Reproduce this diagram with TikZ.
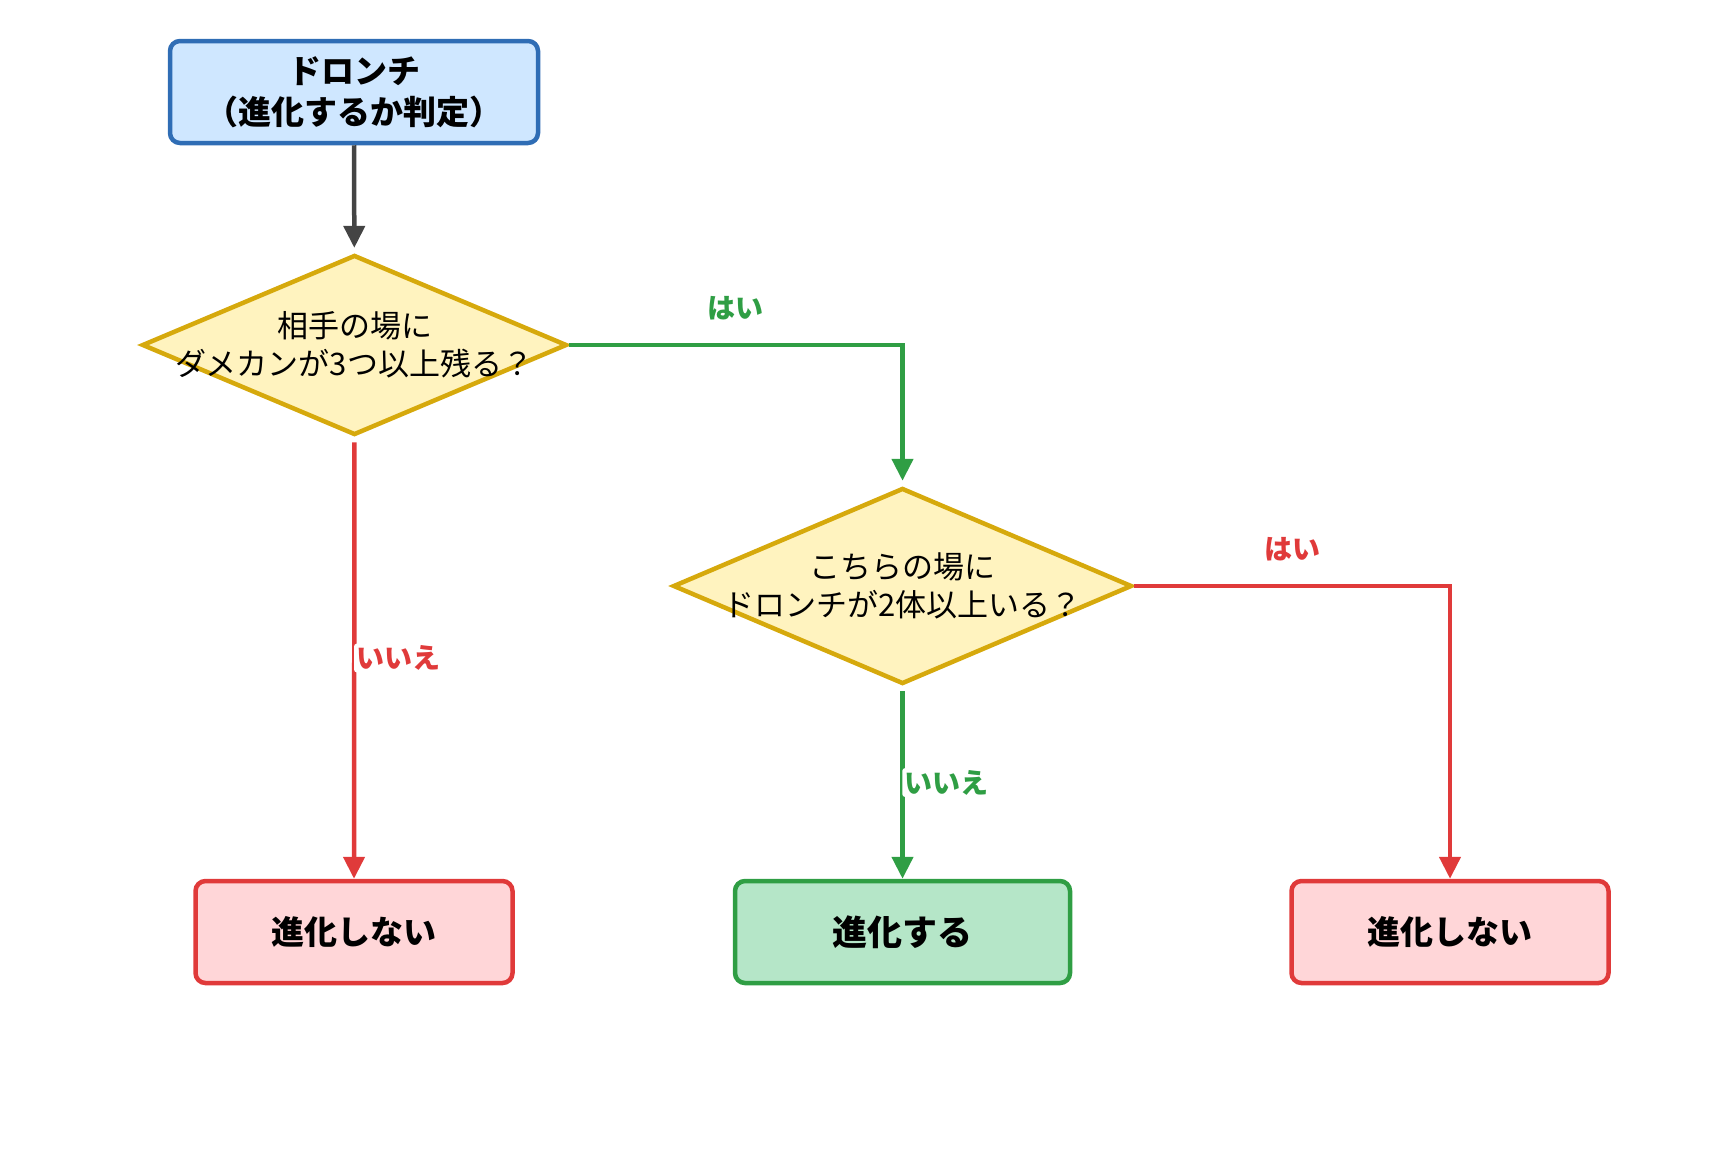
\documentclass[tikz,border=0pt]{standalone}
\usepackage{fontspec}
\setmainfont{Noto Sans CJK JP}
\usepackage{xcolor}
\usetikzlibrary{shapes.geometric,arrows.meta}

\definecolor{startline}{HTML}{2F6DB5}
\definecolor{startfill}{HTML}{CFE7FF}
\definecolor{askline}{HTML}{D6A90C}
\definecolor{askfill}{HTML}{FFF3BF}
\definecolor{noline}{HTML}{E03A3A}
\definecolor{nofill}{HTML}{FFD6D8}
\definecolor{goline}{HTML}{2F9E44}
\definecolor{gofill}{HTML}{B5E6C8}
\definecolor{arrowgray}{HTML}{444444}

\tikzset{
  startbox/.style={draw=startline,fill=startfill,line width=4.5pt,rounded corners=10pt,
    minimum width=368pt,minimum height=102pt,inner sep=0pt,align=center,
    font=\fontsize{33}{41}\selectfont\bfseries},
  askbox/.style={diamond,draw=askline,fill=askfill,line width=4.5pt,inner sep=0pt},
  asktext/.style={align=center,font=\fontsize{31}{38}\selectfont},
  nobox/.style={draw=noline,fill=nofill,line width=4.5pt,rounded corners=10pt,
    minimum width=317pt,minimum height=102pt,inner sep=0pt,
    font=\fontsize{33}{40}\selectfont\bfseries},
  gobox/.style={draw=goline,fill=gofill,line width=4.5pt,rounded corners=10pt,
    minimum width=335pt,minimum height=102pt,inner sep=0pt,
    font=\fontsize{35}{40}\selectfont\bfseries},
  flow/.style={line width=4.5pt,-{Triangle[length=22pt,width=21pt]}},
  tag/.style={font=\fontsize{28}{30}\selectfont\bfseries,inner sep=2pt},
  sidetag/.style={tag,anchor=west,xshift=-2.5pt,fill=white,rounded corners=3pt}
}

\begin{document}
\begin{tikzpicture}[x=1pt,y=-1pt]
\useasboundingbox (0,0) rectangle (1720,1159);
\node (start) at (354,92) [startbox] {ドロンチ\\（進化するか判定）};
\node (ask1) at (354.5,345) [askbox,minimum width=425pt,minimum height=180pt] {};
\node (ask1text) at (ask1) [asktext] {相手の場に\\ダメカンが3つ以上残る？};
\node (ask2) at (902.5,586) [askbox,minimum width=459pt,minimum height=196pt] {};
\node (ask2text) at (ask2) [asktext] {こちらの場に\\ドロンチが2体以上いる？};
\node (stop1) at (354,932) [nobox] {進化しない};
\node (evolve) at (902.5,932) [gobox] {進化する};
\node (stop2) at (1450,932) [nobox] {進化しない};

\draw [flow,draw=arrowgray,shorten >=5pt] (start) -- (ask1);
\draw [flow,draw=goline,shorten >=5pt] (ask1.east) -| (ask2.north)
  node (yes1) [tag,text=goline,pos=0.25,yshift=37pt] {はい};
\draw [flow,draw=noline,shorten <=5pt] (ask1.south) -- (stop1.north)
  node (no1) [sidetag,text=noline,midway] {いいえ};
\draw [flow,draw=noline] (ask2.east) -| (stop2.north)
  node (yes2) [tag,text=noline,pos=0.25,yshift=37pt] {はい};
\draw [flow,draw=goline,shorten <=5pt] (ask2.south) -- (evolve.north)
  node (no2) [sidetag,text=goline,midway] {いいえ};
\end{tikzpicture}
\end{document}
